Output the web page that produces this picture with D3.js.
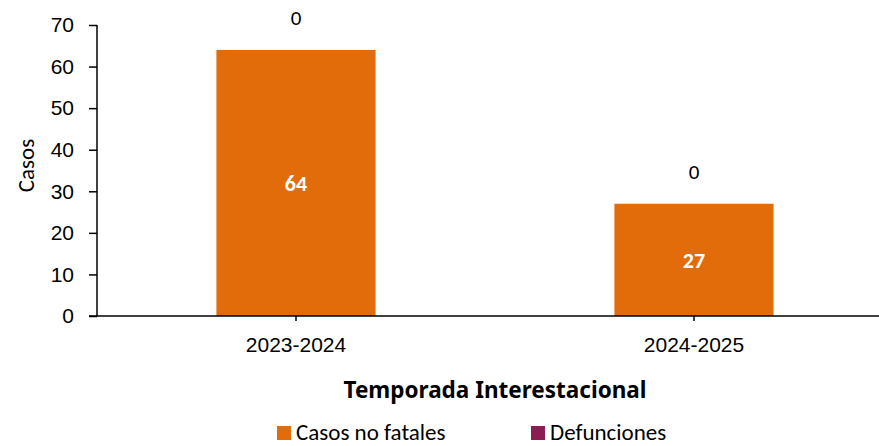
<!DOCTYPE html>
<html lang="es">
<head>
<meta charset="UTF-8">
<title>Casos por temporada</title>
<style>
    body { margin: 0; background: #fff; }
    svg { display: block; font-family: Carlito, Lato, sans-serif; }
    .axis path, .axis line { stroke: #000; stroke-width: 1.5px; }
    .axis text { fill: #000; font-size: 21px; }
</style>
<script src="https://cdn.jsdelivr.net/npm/d3@7"></script>
</head>
<body>
<div id="chart"></div>
<script>
    // data
    const seasons = ["2023-2024", "2024-2025"];
    const casosNoFatales = [64, 27];
    const defunciones = [0, 0];
    const seriesNames = ["Casos no fatales", "Defunciones"];
    const seriesColors = ["#E36C0A", "#8C1D53"];
    const yTicks = [0, 10, 20, 30, 40, 50, 60, 70];

    const width = 879, height = 446;
    const margin = { top: 25, right: -14, bottom: 130, left: 97 };
    const innerW = width - margin.left - margin.right;
    const innerH = height - margin.top - margin.bottom;

    const svg = d3.select("#chart").append("svg")
        .attr("width", width)
        .attr("height", height);

    const g = svg.append("g")
        .attr("transform", "translate(" + margin.left + "," + margin.top + ")");

    const x = d3.scaleBand()
        .domain(seasons)
        .range([0, innerW])
        .paddingInner(0.6)
        .paddingOuter(0.3);

    const y = d3.scaleLinear()
        .domain([0, 70])
        .range([innerH, 0]);

    // stacked bars
    const rows = seasons.map((s, i) => ({ season: s, casos: casosNoFatales[i], def: defunciones[i] }));
    const stack = d3.stack().keys(["casos", "def"])(rows);

    stack.forEach((layer, li) => {
        g.append("g").selectAll("rect")
            .data(layer)
            .join("rect")
            .attr("x", d => x(d.data.season))
            .attr("y", d => y(d[1]))
            .attr("width", x.bandwidth())
            .attr("height", d => y(d[0]) - y(d[1]))
            .attr("fill", seriesColors[li]);
    });

    // axes
    g.append("g")
        .attr("class", "axis")
        .call(d3.axisLeft(y).tickValues(yTicks).tickSize(8).tickPadding(15))
        .call(a => a.select(".domain").attr("d", "M0," + innerH + "V0"));

    g.append("g")
        .attr("class", "axis")
        .attr("transform", "translate(0," + innerH + ")")
        .call(d3.axisBottom(x).tickSize(5).tickPadding(16))
        .call(a => a.select(".domain").attr("d", "M-8,0H" + (innerW + 20)));

    // value labels
    g.append("g").selectAll("text")
        .data(rows)
        .join("text")
        .attr("x", d => x(d.season) + x.bandwidth() / 2)
        .attr("y", d => (y(0) + y(d.casos)) / 2)
        .attr("dy", "0.35em")
        .attr("text-anchor", "middle")
        .attr("fill", "#fff")
        .attr("font-weight", "bold")
        .attr("font-size", 22)
        .text(d => d.casos);

    g.append("g").selectAll("text")
        .data(rows)
        .join("text")
        .attr("x", d => x(d.season) + x.bandwidth() / 2)
        .attr("y", d => y(d.casos + d.def) - 25)
        .attr("text-anchor", "middle")
        .attr("fill", "#000")
        .attr("font-size", 21)
        .text(d => d.def);

    // axis titles
    svg.append("text")
        .attr("transform", "translate(34," + (margin.top + innerH / 2 - 5) + ") rotate(-90)")
        .attr("text-anchor", "middle")
        .attr("font-size", 23)
        .text("Casos");

    svg.append("text")
        .attr("x", margin.left + innerW / 2)
        .attr("y", 398)
        .attr("text-anchor", "middle")
        .attr("font-family", "'Noto Sans', Lato, sans-serif")
        .attr("font-size", 22.5)
        .attr("font-weight", "bold")
        .text("Temporada Interestacional");

    // legend
    const legendX = [277, 531];
    const legend = svg.append("g").selectAll("g")
        .data(seriesNames)
        .join("g")
        .attr("transform", (d, i) => "translate(" + legendX[i] + ",426)");

    legend.append("rect")
        .attr("width", 14)
        .attr("height", 14)
        .attr("fill", (d, i) => seriesColors[i]);

    legend.append("text")
        .attr("x", 19)
        .attr("y", 14)
        .attr("font-size", 23)
        .text(d => d);
</script>
</body>
</html>
